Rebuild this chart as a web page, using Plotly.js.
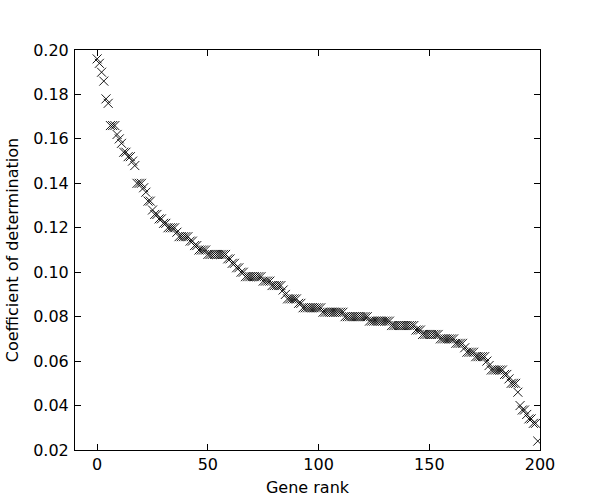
<!DOCTYPE html>
<html>
<head>
<meta charset="utf-8">
<script src="https://cdn.plot.ly/plotly-3.0.1.min.js"></script>
<style>html,body{margin:0;padding:0;background:#fff;}#chart{width:600px;height:500px;}</style>
</head>
<body>
<div id="chart"></div>
<script>
// Coefficient of determination for each gene, ordered by rank (0..199)
var geneRank = [];
for (var k = 0; k < 200; k++) geneRank.push(k);

var coefDetermination = [
  0.196, 0.194, 0.190, 0.186, 0.178, 0.176, 0.166, 0.166, 0.166, 0.162,
  0.160, 0.158, 0.154, 0.154, 0.152, 0.152, 0.150, 0.148, 0.140, 0.140,
  0.140, 0.138, 0.136, 0.132, 0.132, 0.128, 0.126, 0.126, 0.124, 0.124,
  0.122, 0.122, 0.120, 0.120, 0.120, 0.120, 0.118, 0.116, 0.116, 0.116,
  0.116, 0.116, 0.114, 0.114, 0.112, 0.112, 0.110, 0.110, 0.110, 0.110,
  0.108, 0.108, 0.108, 0.108, 0.108, 0.108, 0.108, 0.108, 0.108, 0.106,
  0.106, 0.104, 0.104, 0.102, 0.102, 0.100, 0.100, 0.098, 0.098, 0.098,
  0.098, 0.098, 0.098, 0.098, 0.098, 0.096, 0.096, 0.096, 0.096, 0.094,
  0.094, 0.094, 0.094, 0.094, 0.092, 0.090, 0.088, 0.088, 0.088, 0.088,
  0.088, 0.086, 0.086, 0.084, 0.084, 0.084, 0.084, 0.084, 0.084, 0.084,
  0.084, 0.084, 0.082, 0.082, 0.082, 0.082, 0.082, 0.082, 0.082, 0.082,
  0.082, 0.082, 0.080, 0.080, 0.080, 0.080, 0.080, 0.080, 0.080, 0.080,
  0.080, 0.080, 0.080, 0.078, 0.078, 0.078, 0.078, 0.078, 0.078, 0.078,
  0.078, 0.078, 0.078, 0.076, 0.076, 0.076, 0.076, 0.076, 0.076, 0.076,
  0.076, 0.076, 0.076, 0.076, 0.074, 0.074, 0.074, 0.072, 0.072, 0.072,
  0.072, 0.072, 0.072, 0.072, 0.072, 0.070, 0.070, 0.070, 0.070, 0.070,
  0.070, 0.070, 0.068, 0.068, 0.068, 0.068, 0.066, 0.064, 0.064, 0.064,
  0.064, 0.062, 0.062, 0.062, 0.062, 0.062, 0.060, 0.058, 0.056, 0.056,
  0.056, 0.056, 0.056, 0.056, 0.054, 0.054, 0.052, 0.050, 0.050, 0.050,
  0.046, 0.040, 0.038, 0.038, 0.036, 0.034, 0.034, 0.032, 0.032, 0.024
];

var xTickVals = [0, 50, 100, 150, 200];
var yTickVals = [0.02, 0.04, 0.06, 0.08, 0.10, 0.12, 0.14, 0.16, 0.18, 0.20];

var font = {family: 'DejaVu Sans, sans-serif', size: 16, color: '#000'};

var trace = {
  x: geneRank,
  y: coefDetermination,
  type: 'scatter',
  mode: 'markers',
  marker: {symbol: 'x-thin', size: 9, color: '#000', line: {color: '#000', width: 0.9}},
  hoverinfo: 'x+y'
};

var axisCommon = {
  showgrid: false,
  zeroline: false,
  showline: true,
  linecolor: '#000',
  linewidth: 1,
  mirror: 'ticks',
  ticks: 'inside',
  ticklen: 6,
  tickwidth: 1,
  tickcolor: '#000',
  tickfont: font
};

var layout = {
  width: 600,
  height: 500,
  margin: {l: 75, r: 60, t: 50, b: 50},
  paper_bgcolor: '#fff',
  plot_bgcolor: '#fff',
  showlegend: false,
  font: font,
  xaxis: Object.assign({}, axisCommon, {
    range: [-10, 200],
    tickvals: xTickVals,
    ticktext: xTickVals.map(String),
    title: {text: 'Gene rank', font: font, standoff: 8}
  }),
  yaxis: Object.assign({}, axisCommon, {
    range: [0.02, 0.20],
    tickvals: yTickVals,
    ticktext: yTickVals.map(function (v) { return v.toFixed(2); }),
    ticklabelstandoff: 2,
    title: {text: 'Coefficient of determination', font: font, standoff: 10}
  })
};

Plotly.newPlot('chart', [trace], layout, {displayModeBar: false, staticPlot: true});
</script>
</body>
</html>
